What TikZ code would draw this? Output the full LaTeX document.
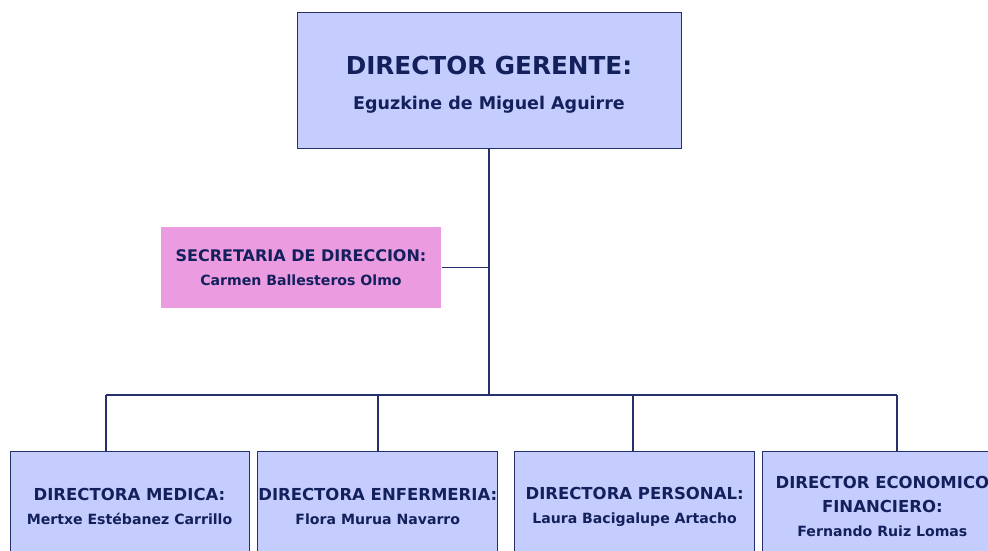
\documentclass[tikz,border=0pt]{standalone}
\usepackage{fontspec}
\setmainfont{DejaVu Sans}
\usetikzlibrary{positioning}
\definecolor{boxblue}{HTML}{C5CDFE}
\definecolor{boxpink}{HTML}{EB9BE0}
\definecolor{navytext}{HTML}{13205C}
\definecolor{linecol}{HTML}{26306A}
\newcommand{\namesize}[1]{{\fontsize{14.1}{18}\selectfont #1}}
\begin{document}
\begin{tikzpicture}[x=1pt, y=1pt, every node/.style={text=navytext, align=center, inner sep=0pt}, line width=1.2pt,
	dirbox/.style={draw=linecol, line width=0.8pt, fill=boxblue, minimum width=240pt, minimum height=110pt, font=\fontsize{16.5}{24}\selectfont\bfseries}]
	\useasboundingbox (0,0) rectangle (988,-550);
	\node[draw=linecol,line width=0.8pt,fill=boxblue,minimum width=384pt,minimum height=136pt,font=\fontsize{24.7}{35}\selectfont\bfseries] (gerente) at (489,-80) {\rule{0pt}{27pt}DIRECTOR GERENTE:\\{\fontsize{17.5}{20}\selectfont Eguzkine de Miguel Aguirre}};
	\node[fill=boxpink,minimum width=280pt,minimum height=81pt,font=\fontsize{16}{24.5}\selectfont\bfseries] (secre) at (301,-267.5) {SECRETARIA DE DIRECCION:\\\namesize{Carmen Ballesteros Olmo}};
	\node[dirbox,minimum width=239pt,anchor=north] (medica) at (129.5,-451) {DIRECTORA MEDICA:\\\namesize{Mertxe Estébanez Carrillo}};
	\node[dirbox,right=8pt of medica] (enfer) {DIRECTORA ENFERMERIA:\\\namesize{Flora Murua Navarro}};
	\node[dirbox,right=16pt of enfer] (personal) {DIRECTORA PERSONAL:\\\namesize{Laura Bacigalupe Artacho}};
	\node[dirbox,right=7pt of personal] (econ) {DIRECTOR ECONOMICO\\FINANCIERO:\\\namesize{Fernando Ruiz Lomas}};
	% bus
	\coordinate (b1) at (106,-395);
	\coordinate (b2) at (378,-395);
	\coordinate (b3) at (633,-395);
	\coordinate (b4) at (897,-395);
	\draw[linecol] (gerente.south) -- (gerente.south |- b1);
	\draw[linecol] (secre.east) -- (secre.east -| gerente.south);
	\draw[linecol] (b1) -- (b4);
	\draw[linecol] (b1) -- (b1 |- medica.north);
	\draw[linecol] (b2) -- (b2 |- enfer.north);
	\draw[linecol] (b3) -- (b3 |- personal.north);
	\draw[linecol] (b4) -- (b4 |- econ.north);
\end{tikzpicture}
\end{document}
